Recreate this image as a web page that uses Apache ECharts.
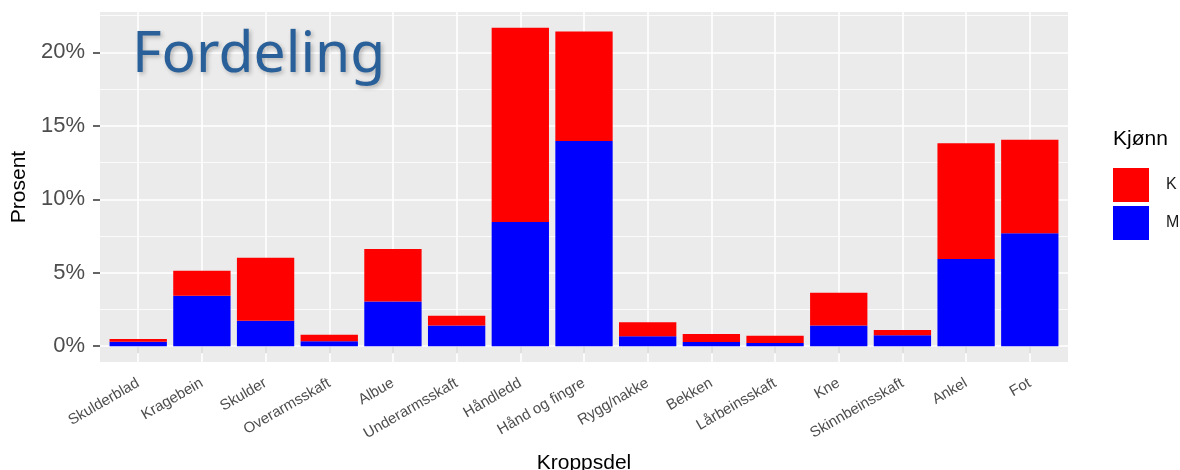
<!DOCTYPE html>
<html>
<head>
<meta charset="utf-8">
<script src="https://cdn.jsdelivr.net/npm/echarts@6/dist/echarts.min.js"></script>
<style>
html,body{margin:0;padding:0;background:#fff}
#c{width:1180px;height:470px}
</style>
</head>
<body>
<div id="c"></div>
<script>
const categories = ['Skulderblad','Kragebein','Skulder','Overarmsskaft','Albue','Underarmsskaft','Håndledd','Hånd og fingre','Rygg/nakke','Bekken','Lårbeinsskaft','Kne','Skinnbeinsskaft','Ankel','Fot'];
const valuesM = [0.30, 3.43, 1.73, 0.33, 3.04, 1.41, 8.46, 13.96, 0.67, 0.28, 0.22, 1.41, 0.74, 5.94, 7.68];
const valuesK = [0.18, 1.70, 4.28, 0.45, 3.58, 0.66, 13.21, 7.47, 0.95, 0.55, 0.49, 2.22, 0.36, 7.88, 6.38];
const yTicks = [0, 5, 10, 15, 20];
const yMinorTicks = [2.5, 7.5, 12.5, 17.5, 22.5];
const yMin = -1.08, yMax = 22.75;

const FONT = 'Liberation Sans, Arial, sans-serif';
const chart = echarts.init(document.getElementById('c'), null, {renderer: 'canvas'});

const panelLeft = 100, panelWidth = 968, panelTop = 12, panelHeight = 350;
const expand = 0.6; // ggplot discrete expansion
const unit = panelWidth / (categories.length - 1 + 2 * expand);
const barGridLeft = panelLeft + (expand - 0.5) * unit;
const barGridWidth = unit * categories.length;

const option = {
  animation: false,
  backgroundColor: '#ffffff',
  title: {
    text: 'Fordeling',
    left: 127, top: 22,
    textStyle: {
      fontFamily: 'Noto Sans', fontWeight: 'normal', fontSize: 57, color: '#2A6099',
      textShadowColor: 'rgba(0,0,0,0.25)', textShadowBlur: 4, textShadowOffsetX: 2, textShadowOffsetY: 2
    }
  },
  legend: {
    data: ['K', 'M'],
    orient: 'vertical',
    left: 1113, top: 168, padding: 0,
    itemWidth: 36, itemHeight: 34, itemGap: 4,
    icon: 'rect',
    selectedMode: false,
    textStyle: {fontFamily: FONT, fontSize: 16, color: '#1a1a1a', padding: [0, 0, 0, 12]}
  },
  graphic: [{
    type: 'text', left: 1113, top: 129,
    style: {text: 'Kjønn', fontFamily: FONT, fontSize: 21, fill: '#000'}
  }],
  grid: [
    {left: panelLeft, top: panelTop, width: panelWidth, height: panelHeight, show: true, backgroundColor: '#EBEBEB', borderWidth: 0, containLabel: false, outerBoundsMode: 'none'},
    {left: barGridLeft, top: panelTop, width: barGridWidth, height: panelHeight, show: false, containLabel: false, outerBoundsMode: 'none'}
  ],
  xAxis: [
    {gridIndex: 0, type: 'value', min: 0, max: 1, show: false},
    {
      gridIndex: 1, type: 'category', data: categories,
      name: 'Kroppsdel', nameLocation: 'middle', nameGap: 91,
      nameTextStyle: {fontFamily: FONT, fontSize: 21, color: '#000'},
      axisLine: {show: false},
      axisTick: {show: true, alignWithLabel: true, length: 7, lineStyle: {color: '#333', width: 1.5}},
      axisLabel: {interval: 0, rotate: 30, fontFamily: FONT, fontSize: 15, color: '#4d4d4d', margin: 20},
      splitLine: {show: false}
    }
  ],
  yAxis: [
    {
      gridIndex: 0, type: 'value', min: yMin, max: yMax,
      name: 'Prosent', nameLocation: 'middle', nameGap: 69,
      nameTextStyle: {fontFamily: FONT, fontSize: 21, color: '#000'},
      axisLine: {show: false},
      axisTick: {show: true, length: 7, lineStyle: {color: '#333', width: 1.5}, customValues: yTicks},
      axisLabel: {fontFamily: FONT, fontSize: 22, color: '#4d4d4d', margin: 15, customValues: yTicks,
        formatter: v => (Math.abs(v % 5) < 1e-9 ? v + '%' : '')},
      splitLine: {show: false}
    },
    {gridIndex: 1, type: 'value', min: yMin, max: yMax, show: false, splitLine: {show: false}}
  ],
  series: [
    {
      type: 'line', xAxisIndex: 0, yAxisIndex: 0, data: [], z: 1, silent: true,
      markLine: {
        silent: true, symbol: 'none', z: 1, animation: false,
        label: {show: false},
        data: yMinorTicks.map(v => ({yAxis: v, lineStyle: {color: '#ffffff', width: 0.8, type: 'solid'}}))
          .concat(yTicks.map(v => ({yAxis: v, lineStyle: {color: '#ffffff', width: 1.6, type: 'solid'}})))
      }
    },
    {
      type: 'line', xAxisIndex: 1, yAxisIndex: 1, data: [], z: 1, silent: true,
      markLine: {
        silent: true, symbol: 'none', z: 1, animation: false,
        label: {show: false},
        lineStyle: {color: '#ffffff', width: 1.6, type: 'solid'},
        data: categories.map(c => ({xAxis: c}))
      }
    },
    {
      name: 'M', type: 'bar', stack: 'total', xAxisIndex: 1, yAxisIndex: 1,
      data: valuesM, barWidth: '90%', z: 3,
      itemStyle: {color: '#0000FF'}
    },
    {
      name: 'K', type: 'bar', stack: 'total', xAxisIndex: 1, yAxisIndex: 1,
      data: valuesK, barWidth: '90%', z: 3,
      itemStyle: {color: '#FF0000'}
    }
  ]
};
chart.setOption(option);
</script>
</body>
</html>
